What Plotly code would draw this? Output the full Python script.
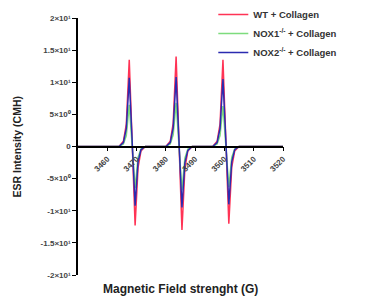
import plotly.graph_objects as go

# Magnetic field (G)
field = [3450, 3464, 3465.5, 3466.5, 3467.5, 3468.5, 3469.5, 3470.5, 3471.5, 3473,
         3480, 3481.5, 3482.5, 3483.5, 3484.5, 3485.5, 3486.5, 3487.5, 3489,
         3496, 3497.5, 3498.5, 3499.5, 3500.5, 3501.5, 3502.5, 3503.5, 3505, 3520]

wt_collagen = [0, 0, 0.8, 3.5, 13.5, 0, -12.3, -3.3, -0.7, 0,
               0, 0.8, 3.6, 14.0, 0, -13.0, -3.4, -0.7, 0,
               0, 0.8, 3.5, 13.5, 0, -12.0, -3.2, -0.7, 0, 0]

nox1_collagen = [0, 0, 0.4, 1.7, 6.5, 0, -6.5, -1.7, -0.4, 0,
                 0, 0.4, 1.8, 6.8, 0, -6.8, -1.8, -0.4, 0,
                 0, 0.4, 1.7, 6.3, 0, -6.3, -1.7, -0.4, 0, 0]

nox2_collagen = [0, 0, 0.6, 2.8, 10.7, 0, -9.2, -2.4, -0.5, 0,
                 0, 0.6, 2.9, 10.8, 0, -9.5, -2.5, -0.6, 0,
                 0, 0.6, 2.8, 10.5, 0, -9.0, -2.4, -0.5, 0, 0]

series_names = ["WT + Collagen",
                "NOX1<sup>-/-</sup> + Collagen",
                "NOX2<sup>-/-</sup> + Collagen"]
series_colors = ["#ff3355", "#7ddc7d", "#2b2bb0"]

x_tickvals = [3460, 3470, 3480, 3490, 3500, 3510, 3520]
x_ticktext = ["<b>%d</b>" % v for v in x_tickvals]
y_tickvals = [20, 15, 10, 5, 0, -5, -10, -15, -20]
y_ticktext = ["<b>2×10¹</b>", "<b>1.5×10¹</b>", "<b>1×10¹</b>", "<b>5×10⁰</b>", "<b>0</b>",
              "<b>-5×10⁰</b>", "<b>-1×10¹</b>", "<b>-1.5×10¹</b>", "<b>-2×10¹</b>"]

FONT = "Liberation Sans, Arial, sans-serif"

fig = go.Figure()
for name, ys, col in zip(series_names, [wt_collagen, nox1_collagen, nox2_collagen], series_colors):
    fig.add_trace(go.Scatter(x=field, y=ys, mode="lines", name="<b>%s</b>" % name,
                             line=dict(color=col, width=1.5)))

# the page body has an 8px default margin, so the figure is sized to fit the window
fig.update_layout(
    width=368, height=290,
    margin=dict(l=70, r=93, t=10, b=23, autoexpand=False),
    paper_bgcolor="white", plot_bgcolor="white",
    font=dict(family=FONT, size=8, color="#333"),
    showlegend=True,
    legend=dict(x=0.66, y=1.07, xanchor="left", yanchor="top",
                bgcolor="rgba(0,0,0,0)", font=dict(size=9.5, color="#333"),
                tracegroupgap=0),
    xaxis=dict(range=[3450, 3520], anchor="free", position=0.5,
               showline=True, linecolor="black", linewidth=1.5,
               ticks="outside", ticklen=4, tickwidth=1.2, tickcolor="black",
               tickvals=x_tickvals, ticktext=x_ticktext, tickangle=-45,
               tickfont=dict(size=8, color="#444"),
               showgrid=False, zeroline=False),
    yaxis=dict(range=[-20, 20],
               showline=True, linecolor="black", linewidth=1.5,
               ticks="outside", ticklen=4, tickwidth=1.2, tickcolor="black",
               tickvals=y_tickvals, ticktext=y_ticktext,
               tickfont=dict(size=8, color="#444"),
               showgrid=False, zeroline=False),
    annotations=[
        dict(text="<b>Magnetic Field strenght (G)</b>", x=0.5, y=-0.02,
             xref="paper", yref="paper", xanchor="center", yanchor="top",
             showarrow=False, font=dict(size=12, color="#222")),
        dict(text="<b>ESR Intensity (CMH)</b>", x=-62 / 205, y=0.5,
             xref="paper", yref="paper", xanchor="center", yanchor="middle",
             showarrow=False, textangle=-90, font=dict(size=10.5, color="#222")),
    ],
)

fig.write_html("out.html")
